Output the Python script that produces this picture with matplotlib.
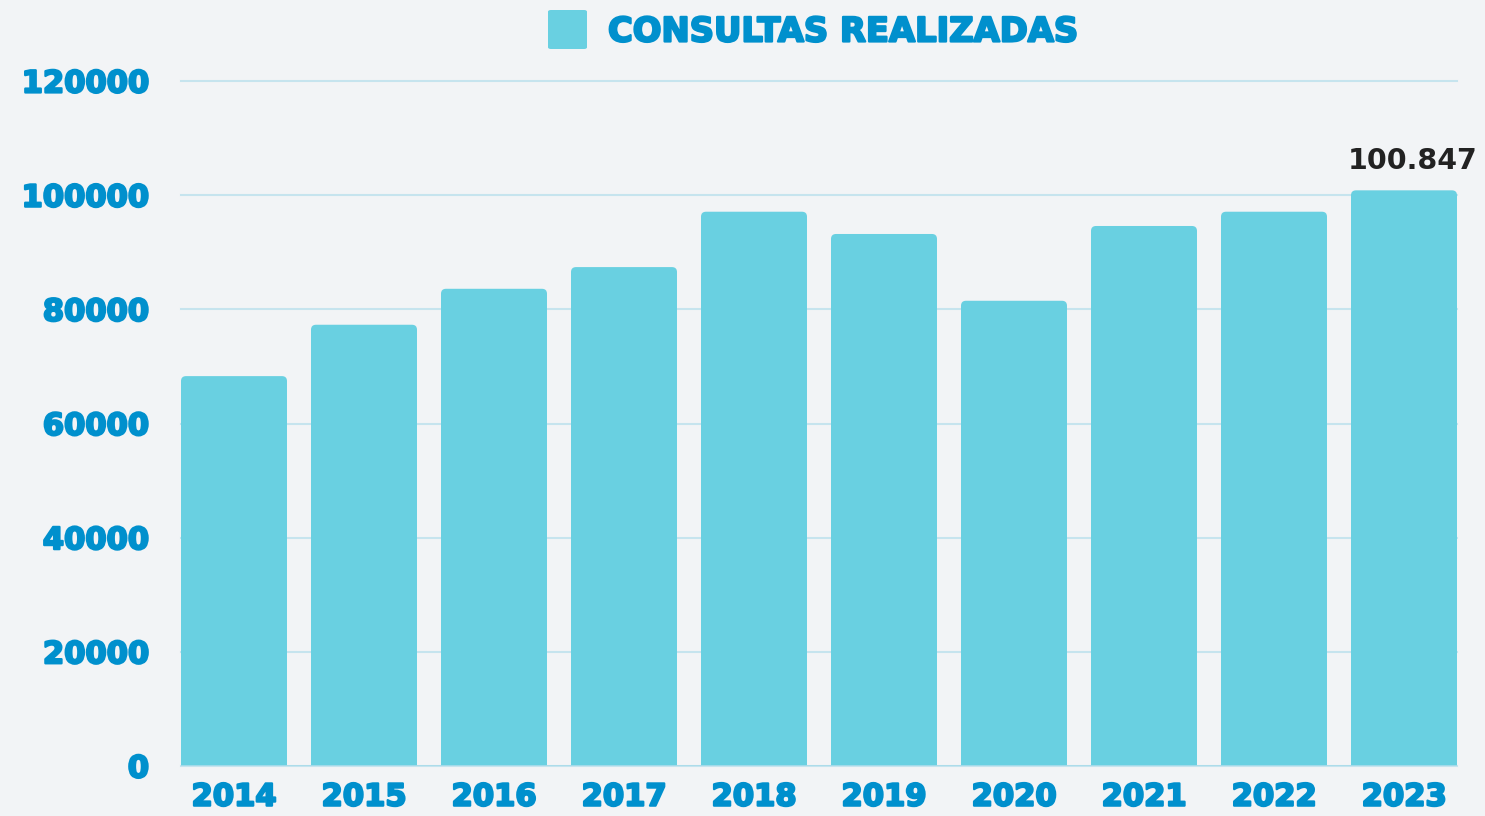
import matplotlib
matplotlib.use("Agg")
import matplotlib.pyplot as plt
import matplotlib.patheffects as pe
from matplotlib.patches import FancyBboxPatch

years = ["2014", "2015", "2016", "2017", "2018", "2019", "2020", "2021", "2022", "2023"]
consultas = [68300, 77300, 83600, 87400, 97100, 93200, 81500, 94600, 97100, 100847]
y_ticks = [0, 20000, 40000, 60000, 80000, 100000, 120000]
series_name = "CONSULTAS REALIZADAS"
highlight_label = "100.847"

BG = "#F2F4F6"
BAR = "#69D0E1"
BLUE = "#0090CD"
GRID = "#C6E4EE"
DARK = "#222222"

W, H = 1485, 816
fig = plt.figure(figsize=(W / 100, H / 100), dpi=100, facecolor=BG)
ax = fig.add_axes([181 / W, (816 - 766) / H, (1457 - 181) / W, (766 - 81) / H])
ax.set_facecolor(BG)

width = 106 / 130
x = list(range(len(years)))
bars = ax.bar(x, consultas, width=width, color=BAR, zorder=3)

ax.set_xlim(-width / 2, len(years) - 1 + width / 2)
ax.set_ylim(0, 120000)

# replace bars with rounded-top versions
px_per_x = (1457 - 181) / (len(years) - 1 + width)
px_per_y = (766 - 81) / 120000
r_px = 5
r_x = r_px / px_per_x
aspect = (r_px / px_per_y) / r_x
for b in bars:
    b.set_visible(False)
    x0 = b.get_x()
    h = b.get_height()
    ext = r_px / px_per_y * 1.5
    p = FancyBboxPatch((x0, -ext), b.get_width(), h + ext,
                       boxstyle=f"round,pad=0,rounding_size={r_x}",
                       mutation_aspect=aspect, facecolor=BAR, edgecolor="none",
                       zorder=3, clip_on=True)
    ax.add_patch(p)

ax.set_yticks(y_ticks)
ax.set_yticklabels([str(v) for v in y_ticks])
ax.set_xticks(x)
ax.set_xticklabels(years)
ax.yaxis.grid(True, color=GRID, linewidth=1.5, zorder=0)
for gl in ax.get_ygridlines():
    gl.set_clip_on(False)
ax.xaxis.grid(False)
for s in ax.spines.values():
    s.set_visible(False)
ax.axhline(0, color="#A9DCEA", linewidth=2, zorder=4)
ax.tick_params(axis="both", length=0, labelcolor=BLUE)
ax.tick_params(axis="y", pad=23)
ax.tick_params(axis="x", pad=12)
heavy = [pe.withStroke(linewidth=1.6, foreground=BLUE)]
for lab in ax.get_yticklabels() + ax.get_xticklabels():
    lab.set_fontfamily("DejaVu Sans")
    lab.set_fontweight("bold")
    lab.set_fontsize(22)
    lab.set_path_effects(heavy)

ax.annotate(highlight_label, xy=(x[-1], consultas[-1]), xytext=(6, 11),
            textcoords="offset points", ha="center", va="bottom",
            fontsize=20.5, fontweight="bold", color=DARK,
            fontfamily="DejaVu Sans", annotation_clip=False)

# legend
fig.patches.append(FancyBboxPatch((548 / W, (816 - 49) / H), 39 / W, 39 / H,
                                  boxstyle="round,pad=0,rounding_size=0.002",
                                  transform=fig.transFigure, facecolor=BAR,
                                  edgecolor="none", figure=fig))
fig.text(608 / W, (816 - 32) / H, series_name, ha="left", va="center",
         fontsize=24.3, fontweight="bold", color=BLUE, fontfamily="DejaVu Sans",
         path_effects=[pe.withStroke(linewidth=1.6, foreground=BLUE)])

fig.savefig("out.png", dpi=100, facecolor=BG)
